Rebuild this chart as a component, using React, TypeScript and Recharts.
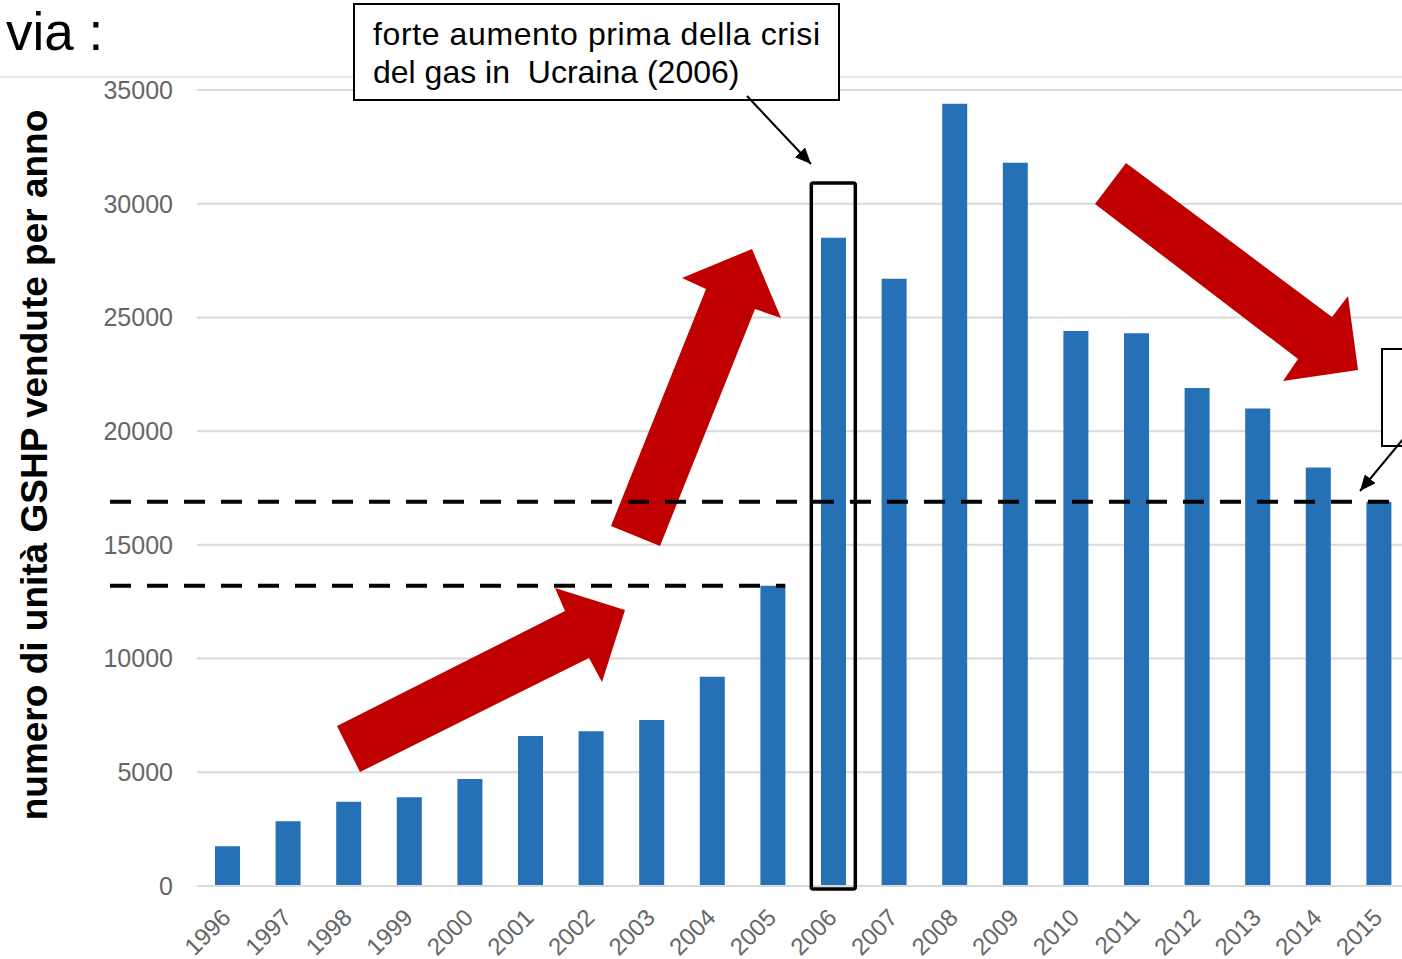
import React from 'react';
import { BarChart, Bar, XAxis, YAxis, CartesianGrid } from 'recharts';

// GSHP units sold per year
const years = ['1996', '1997', '1998', '1999', '2000', '2001', '2002', '2003', '2004', '2005',
  '2006', '2007', '2008', '2009', '2010', '2011', '2012', '2013', '2014', '2015'];
const unitsSold = [1750, 2850, 3700, 3900, 4700, 6600, 6800, 7300, 9200, 13200,
  28500, 26700, 34400, 31800, 24400, 24300, 21900, 21000, 18400, 16900];
const yTicks = [0, 5000, 10000, 15000, 20000, 25000, 30000, 35000];

const data = years.map((year, i) => ({ year, units: unitsSold[i] }));

// plot geometry
const CHART_W = 1410;
const CHART_H = 959;
const PLOT_LEFT = 197;
const PLOT_TOP = 90;
const PLOT_BOTTOM = 886;
const PLOT_W = 1212;
const Y_MAX = 35000;
const FONT = '"Liberation Sans", Arial, sans-serif';

const yFor = (v: number) => PLOT_BOTTOM - (v / Y_MAX) * (PLOT_BOTTOM - PLOT_TOP);
const xCenter = (i: number) => PLOT_LEFT + (PLOT_W / years.length) * (i + 0.5);

const YearTick = ({ x, payload }: any) => {
  const ax = x + 5;
  const ay = PLOT_BOTTOM + 33;
  return (
    <text x={ax} y={ay} transform={`rotate(-45 ${ax} ${ay})`} textAnchor="end"
      fontSize={24} fill="#666" fontFamily={FONT}>
      {payload.value}
    </text>
  );
};

const Overlay = () => {
  const i2005 = years.indexOf('2005');
  const i2006 = years.indexOf('2006');
  const yHigh = yFor(unitsSold[unitsSold.length - 1]);
  const yLow = yFor(unitsSold[i2005]);
  const lowEnd = xCenter(i2005) + 12.5;
  const boxX = xCenter(i2006) - 22;
  return (
    <svg width={1402} height={959} style={{ position: 'absolute', left: 0, top: 0, pointerEvents: 'none' }}>
      <defs>
        <marker id="tip" markerUnits="userSpaceOnUse" markerWidth={16} markerHeight={14}
          refX={16} refY={7} orient="auto">
          <path d="M0,0 L16,7 L0,14 z" fill="#000" />
        </marker>
      </defs>

      <line x1={0} y1={77} x2={1402} y2={77} stroke="#d7e3f1" strokeWidth={1.5} />
      <text x={6} y={50} fontSize={53} fontFamily={FONT} fill="#000">via :</text>

      <text transform="translate(47 465) rotate(-90)" textAnchor="middle" fontSize={37}
        fontWeight="bold" fontFamily={FONT} fill="#000">
        numero di unità GSHP vendute per anno
      </text>

      {/* red trend arrows */}
      <polygon fill="#c00000" points="337,726 565,611 555,588 625,610 602,682 589,658 360,772" />
      <polygon fill="#c00000" points="611,526 706,289 682,278 752,249 781,318 755,309 660,546" />
      <polygon fill="#c00000" points="1126,163 1332,317 1348,296 1358,370 1283,381 1298,359 1095,204" />

      {/* dashed reference levels */}
      <line x1={110} y1={yHigh} x2={1400} y2={yHigh} stroke="#000" strokeWidth={4} strokeDasharray="21 16" />
      <line x1={110} y1={yLow} x2={lowEnd} y2={yLow} stroke="#000" strokeWidth={4} strokeDasharray="21 16" />

      {/* 2006 highlight */}
      <rect x={boxX} y={183} width={44} height={706} fill="none" stroke="#000" strokeWidth={3.5} rx={2} />

      {/* callout */}
      <rect x={354} y={4} width={485} height={96} fill="#fff" stroke="#000" strokeWidth={2} />
      <text x={373} y={45} fontSize={32} fontFamily={FONT} fill="#000" textLength={447} lengthAdjust="spacing">
        forte aumento prima della crisi
      </text>
      <text x={373} y={83} fontSize={32} fontFamily={FONT} fill="#000" style={{ whiteSpace: 'pre' }}>
        del gas in  Ucraina (2006)
      </text>
      <line x1={747} y1={96} x2={811} y2={164} stroke="#000" strokeWidth={2} markerEnd="url(#tip)" />

      {/* right callout (cut off) */}
      <rect x={1382} y={349} width={40} height={97} fill="#fff" stroke="#000" strokeWidth={2} />
      <line x1={1404} y1={438} x2={1360} y2={491} stroke="#000" strokeWidth={2} markerEnd="url(#tip)" />
    </svg>
  );
};

export default function App() {
  return (
    <div style={{ position: 'absolute', left: 0, top: 0, width: 1402, height: 959, overflow: 'hidden', background: '#fff', fontFamily: FONT }}>
      <BarChart width={CHART_W} height={CHART_H} data={data}
        margin={{ top: PLOT_TOP, right: CHART_W - PLOT_LEFT - PLOT_W, bottom: 0, left: 0 }}>
        <CartesianGrid vertical={false} stroke="#d9d9d9" strokeWidth={2} />
        <XAxis dataKey="year" height={CHART_H - PLOT_BOTTOM} interval={0} tickLine={false}
          axisLine={{ stroke: '#d9d9d9', strokeWidth: 2 }} tick={<YearTick />} />
        <YAxis width={PLOT_LEFT} domain={[0, Y_MAX]} ticks={yTicks} axisLine={false} tickLine={false}
          tickSize={0} tickMargin={24} tick={{ fontSize: 25, fill: '#666', fontFamily: FONT }} />
        <Bar dataKey="units" fill="#2671b6" barSize={25} isAnimationActive={false} />
      </BarChart>
      <Overlay />
    </div>
  );
}
